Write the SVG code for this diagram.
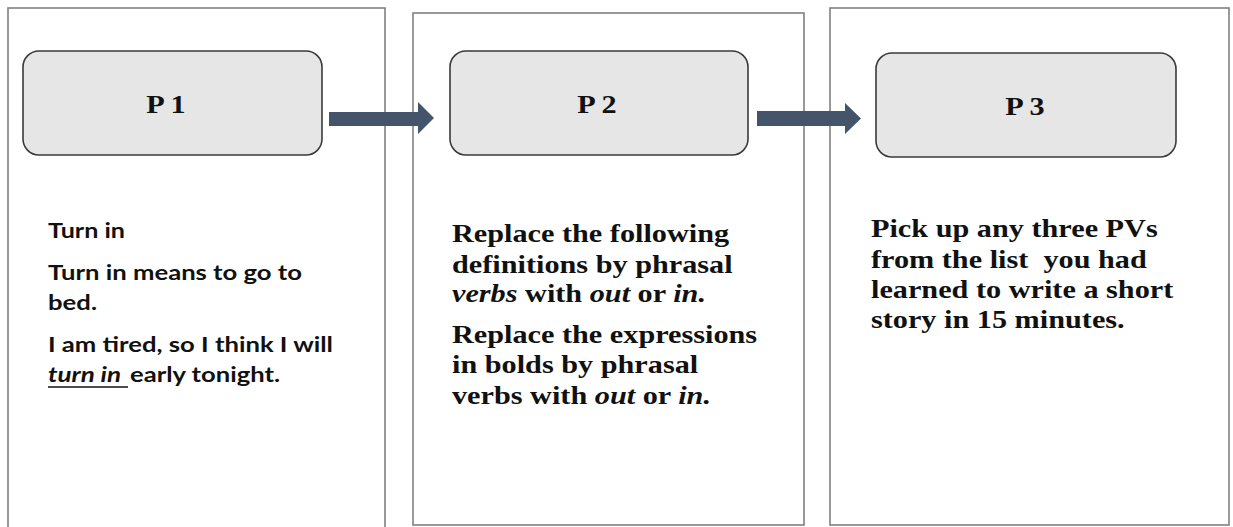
<svg xmlns="http://www.w3.org/2000/svg" width="1233" height="527" viewBox="0 0 1233 527">
<style>
.panel{fill:#fff;stroke:#808080;stroke-width:1.6}
.box{fill:#e6e6e6;stroke:#3a3a3a;stroke-width:1.6}
.lbl{font-family:"Liberation Serif","Times New Roman",serif;font-weight:bold;font-size:25px;fill:#111;text-anchor:middle}
.ser{font-family:"Liberation Serif","Times New Roman",serif;font-weight:bold;font-size:25px;fill:#111}
.san{font-family:Lato,"Liberation Sans",sans-serif;font-weight:bold;font-size:21px;fill:#111}
.it{font-style:italic}
.arrow{fill:#44546a}
</style>
<rect width="1233" height="527" fill="#fff"/>
<g id="panel1">
<rect class="panel" x="8" y="8" width="377" height="530"/>
<rect class="box" x="23" y="51" width="299" height="104" rx="16"/>
<g transform="translate(166,0) scale(1.21,1)"><text class="lbl" x="0" y="113">P 1</text></g>
<text class="san" x="48" y="238" textLength="77" lengthAdjust="spacingAndGlyphs">Turn in</text>
<text class="san" x="48" y="280" textLength="254" lengthAdjust="spacingAndGlyphs">Turn in means to go to</text>
<text class="san" x="48" y="310" textLength="49" lengthAdjust="spacingAndGlyphs">bed.</text>
<text class="san" x="48" y="352" textLength="285" lengthAdjust="spacingAndGlyphs">I am tired, so I think I will</text>
<text class="san it" x="48" y="382" textLength="73" lengthAdjust="spacingAndGlyphs">turn in</text>
<line x1="48" y1="387" x2="128" y2="387" stroke="#111" stroke-width="1.6"/>
<text class="san" x="130" y="382" textLength="150" lengthAdjust="spacingAndGlyphs">early tonight.</text>
</g>
<g id="panel2">
<rect class="panel" x="413" y="13" width="391" height="512"/>
<rect class="box" x="450" y="51" width="298" height="104" rx="16"/>
<g transform="translate(597,0) scale(1.21,1)"><text class="lbl" x="0" y="113">P 2</text></g>
<g transform="translate(452,0) scale(1.21,1)">
<text class="ser" x="0" y="242">Replace the following</text>
<text class="ser" x="0" y="273">definitions by phrasal</text>
<text class="ser" x="0" y="302"><tspan class="it">verbs</tspan> with <tspan class="it">out</tspan> or <tspan class="it">in.</tspan></text>
<text class="ser" x="0" y="343">Replace the expressions</text>
<text class="ser" x="0" y="373">in bolds by phrasal</text>
<text class="ser" x="0" y="404">verbs with <tspan class="it">out</tspan> or <tspan class="it">in.</tspan></text>
</g>
</g>
<g id="panel3">
<rect class="panel" x="830" y="8" width="399" height="517"/>
<rect class="box" x="876" y="53" width="300" height="104" rx="16"/>
<g transform="translate(1025,0) scale(1.21,1)"><text class="lbl" x="0" y="115">P 3</text></g>
<g transform="translate(871,0) scale(1.21,1)">
<text class="ser" x="0" y="237">Pick up any three PVs</text>
<text class="ser" x="0" y="268" xml:space="preserve">from the list  you had</text>
<text class="ser" x="0" y="298">learned to write a short</text>
<text class="ser" x="0" y="328">story in 15 minutes.</text>
</g>
</g>
<g id="connectors">
<polygon class="arrow" points="329,112 418,112 418,102 434,118 418,134 418,126 329,126"/>
<polygon class="arrow" points="757,111 845,111 845,103 861,118.5 845,134 845,126 757,126"/>
</g>
</svg>
